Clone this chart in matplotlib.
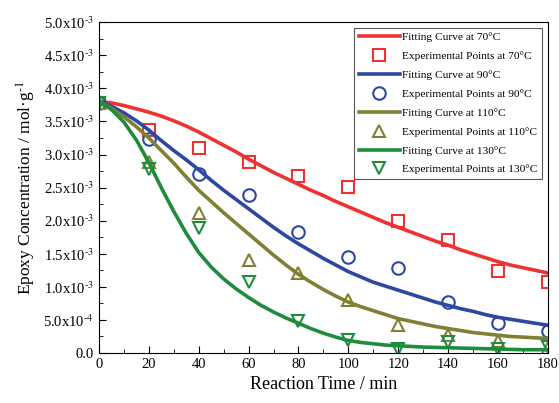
import matplotlib
matplotlib.use('Agg')
from matplotlib import pyplot as plt
from matplotlib.ticker import MultipleLocator, FixedLocator

plt.rcParams['font.family'] = ['Liberation Serif', 'DejaVu Serif']
plt.rcParams['mathtext.fontset'] = 'stix'

# 拟合曲线 (每5 min读取, 单位 1e-3 mol/g)
t_fit = [0, 5, 10, 15, 20, 25, 30, 35, 40, 45, 50, 55, 60, 65, 70, 75, 80, 85, 90,
         95, 100, 105, 110, 115, 120, 125, 130, 135, 140, 145, 150, 155, 160, 165, 170, 175, 180]
fit_70 = [3.80, 3.78, 3.74, 3.69, 3.64, 3.58, 3.51, 3.43, 3.34, 3.24, 3.14, 3.04, 2.93, 2.83,
          2.73, 2.64, 2.55, 2.46, 2.38, 2.29, 2.21, 2.13, 2.05, 1.97, 1.90, 1.83, 1.76, 1.69,
          1.63, 1.56, 1.50, 1.44, 1.38, 1.33, 1.29, 1.25, 1.21]
fit_90 = [3.80, 3.73, 3.63, 3.51, 3.37, 3.21, 3.06, 2.92, 2.77, 2.61, 2.46, 2.32, 2.18, 2.04,
          1.90, 1.77, 1.65, 1.54, 1.43, 1.33, 1.23, 1.15, 1.07, 1.01, 0.95, 0.89, 0.83, 0.77,
          0.72, 0.67, 0.63, 0.58, 0.54, 0.51, 0.48, 0.45, 0.42]
fit_110 = [3.80, 3.70, 3.57, 3.42, 3.25, 3.06, 2.87, 2.66, 2.46, 2.29, 2.12, 1.96, 1.80, 1.64,
           1.48, 1.33, 1.19, 1.07, 0.96, 0.86, 0.77, 0.70, 0.64, 0.58, 0.52, 0.48, 0.44, 0.40,
           0.37, 0.34, 0.31, 0.29, 0.27, 0.25, 0.24, 0.23, 0.22]
fit_130 = [3.80, 3.68, 3.49, 3.22, 2.88, 2.50, 2.14, 1.81, 1.52, 1.30, 1.12, 0.97, 0.84, 0.72,
           0.62, 0.53, 0.45, 0.37, 0.30, 0.24, 0.19, 0.16, 0.14, 0.12, 0.11, 0.10, 0.09, 0.085,
           0.08, 0.075, 0.07, 0.065, 0.06, 0.055, 0.05, 0.05, 0.05]

# 实验点
t_exp = [0, 20, 40, 60, 80, 100, 120, 140, 160, 180]
exp_70 = [3.78, 3.37, 3.10, 2.89, 2.68, 2.51, 1.99, 1.71, 1.24, 1.07]
exp_90 = [3.78, 3.24, 2.71, 2.39, 1.83, 1.45, 1.28, 0.77, 0.46, 0.34]
exp_110 = [3.78, 2.89, 2.11, 1.40, 1.21, 0.80, 0.43, 0.27, 0.18, 0.08]
exp_130 = [3.78, 2.78, 1.89, 1.07, 0.48, 0.20, 0.06, 0.17, 0.06, 0.09]

temps = ['70', '90', '110', '130']
colors = ['#ee3232', '#2c48a0', '#808032', '#1e8c3c']
markers = ['s', 'o', '^', 'v']
fits = [fit_70, fit_90, fit_110, fit_130]
exps = [exp_70, exp_90, exp_110, exp_130]

fig = plt.figure(figsize=(5.59, 4.03), dpi=100)
ax = fig.add_axes([0.177, 0.124, 0.803, 0.821])

handles = []
for T, c, m, f, e in zip(temps, colors, markers, fits, exps):
    l, = ax.plot(t_fit, [v * 1e-3 for v in f], color=c, lw=2.6,
                 label='Fitting Curve at %s°C' % T)
    p, = ax.plot(t_exp, [v * 1e-3 for v in e], ls='none', marker=m, ms=9,
                 mfc='none', mec=c, mew=1.5, label='Experimental Points at %s°C' % T)
    handles += [l, p]

ax.set_xlim(0, 180)
ax.set_ylim(0, 5.0e-3)
ax.xaxis.set_major_locator(MultipleLocator(20))
ax.xaxis.set_minor_locator(MultipleLocator(10))
yt = [i * 0.5e-3 for i in range(11)]
ax.yaxis.set_major_locator(FixedLocator(yt))
ax.yaxis.set_minor_locator(MultipleLocator(0.25e-3))
ylabels = ['0.0', r'5.0x10$^{\text{-4}}$'] + [r'%.1fx10$^{\text{-3}}$' % (i * 0.5) for i in range(2, 11)]
ax.set_yticklabels(ylabels)
ax.tick_params(which='both', direction='in', top=False, right=False, labelsize=10.5)
ax.tick_params(which='major', length=5)
ax.tick_params(which='minor', length=3)

ax.set_xlabel('Reaction Time / min', fontsize=13)
ax.set_ylabel(r'Epoxy Concentration / mol·g$^{\text{-1}}$', fontsize=12.5)

leg = ax.legend(handles=handles, loc='upper right', fontsize=8.2, fancybox=False,
                edgecolor='#555555', handlelength=3.6, borderaxespad=0.5,
                labelspacing=0.78, handletextpad=0.2, framealpha=1)
leg.get_frame().set_linewidth(0.8)

fig.savefig('out.png', dpi=100)
